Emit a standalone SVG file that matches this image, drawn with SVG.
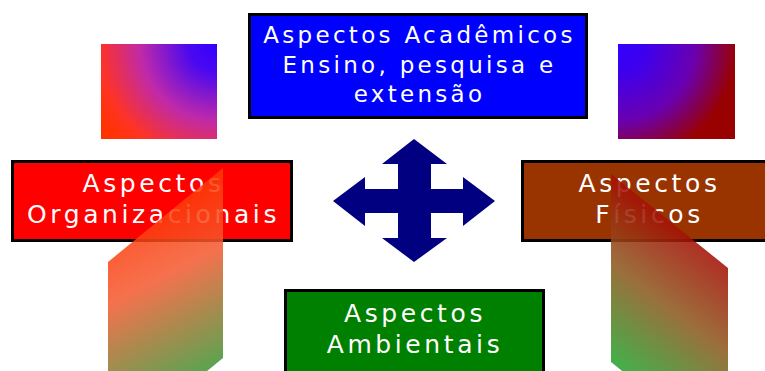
<svg xmlns="http://www.w3.org/2000/svg" width="765" height="371" viewBox="0 0 765 371">
<defs>
<style>
.box{stroke:#000;stroke-width:3}
.t{font-family:"DejaVu Sans",Verdana,sans-serif;font-size:25px;fill:#fff;letter-spacing:3.6px;text-anchor:middle}
.tb{font-size:23px;letter-spacing:3.3px}
</style>
<radialGradient id="gTL" gradientUnits="userSpaceOnUse" cx="217" cy="44" r="140">
<stop offset="0" stop-color="#3300ff"/>
<stop offset="0.2" stop-color="#4a08f0"/>
<stop offset="0.55" stop-color="#c02aa8"/>
<stop offset="0.85" stop-color="#ff3322"/>
<stop offset="1" stop-color="#ff3300"/>
</radialGradient>
<radialGradient id="gTR" gradientUnits="userSpaceOnUse" cx="618" cy="44" r="140">
<stop offset="0" stop-color="#3300ff"/>
<stop offset="0.2" stop-color="#3d00ee"/>
<stop offset="0.55" stop-color="#6a00b0"/>
<stop offset="0.85" stop-color="#990000"/>
<stop offset="1" stop-color="#990000"/>
</radialGradient>
<linearGradient id="gPL" gradientUnits="userSpaceOnUse" x1="130" y1="210" x2="215" y2="375">
<stop offset="0" stop-color="#ff3300"/>
<stop offset="0.4" stop-color="#f45a30"/>
<stop offset="1" stop-color="#339933"/>
</linearGradient>
<linearGradient id="gPR" gradientUnits="userSpaceOnUse" x1="715" y1="235" x2="612" y2="370">
<stop offset="0" stop-color="#aa0000"/>
<stop offset="0.5" stop-color="#8e5a20"/>
<stop offset="1" stop-color="#22aa33"/>
</linearGradient>
</defs>

<rect x="101" y="44" width="116" height="95" fill="url(#gTL)"/>
<rect x="618" y="44" width="117" height="95" fill="url(#gTR)"/>

<g id="node-academicos">
<rect class="box" x="249.5" y="14.5" width="337" height="103" fill="#0000ff"/>
<text class="t tb" x="419.5" y="43">Aspectos Acadêmicos</text>
<text class="t tb" x="419.5" y="73">Ensino, pesquisa e</text>
<text class="t tb" x="419.5" y="102">extensão</text>
</g>

<g id="node-organizacionais">
<rect class="box" x="12.5" y="161.5" width="279" height="79" fill="#ff0000"/>
<text class="t" x="153.5" y="192">Aspectos</text>
<text class="t" x="153.5" y="223">Organizacionais</text>
</g>

<g id="node-fisicos">
<rect class="box" x="522.5" y="161.5" width="252" height="79" fill="#993300"/>
<text class="t" x="649.5" y="192">Aspectos</text>
<text class="t" x="649.5" y="223">Físicos</text>
</g>

<g id="node-ambientais">
<rect class="box" x="285.5" y="290.5" width="258" height="100" fill="#008000"/>
<text class="t" x="415" y="322">Aspectos</text>
<text class="t" x="415" y="353">Ambientais</text>
</g>

<g id="connectors">
<polygon fill="#000080" points="414,139 447,164 431,164 431,189 463,189 463,177 495,201 463,226 463,213 431,213 431,238 447,238 414,262 382,238 398,238 398,213 365,213 365,226 333,201 365,177 365,189 398,189 398,164 382,164"/>
</g>

<polygon points="108,262 223,168 223,358 108,452" fill="url(#gPL)" fill-opacity="0.86"/>
<polygon points="611,174 728,268 728,456 611,362" fill="url(#gPR)" fill-opacity="0.88"/>
</svg>
